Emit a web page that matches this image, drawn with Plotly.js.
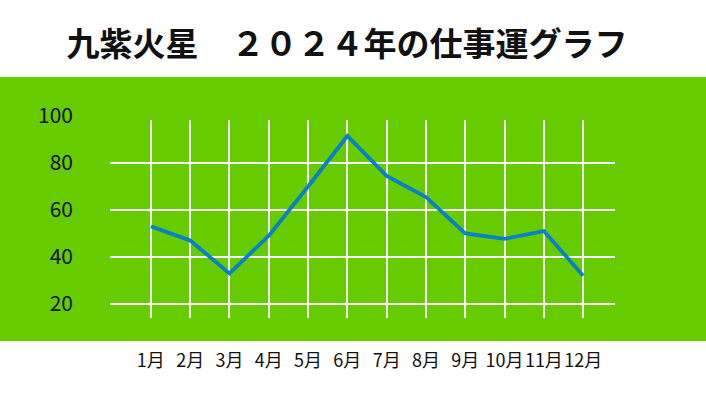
<!DOCTYPE html>
<html>
<head>
<meta charset="utf-8">
<script src="https://cdn.plot.ly/plotly-3.0.1.min.js"></script>
<style>
  html, body { margin: 0; padding: 0; background: #fff; }
  #graph { width: 706px; height: 419px; }
</style>
</head>
<body>
<div id="graph"></div>
<script>
// months on the x axis
var months = ['1月', '2月', '3月', '4月', '5月', '6月', '7月', '8月', '9月', '10月', '11月', '12月'];

// work luck score for each month
var luck = [53, 47, 33, 49, 70, 91.5, 74.5, 65.5, 50, 47.7, 51, 32];

// y tick labels (100 sits above the grid) and the gridlines
var yTickVals = [20, 40, 60, 80, 100];
var yGridVals = [20, 40, 60, 80];

var titleText = '九紫火星　２０２４年の仕事運グラフ';

var font = 'Noto Sans CJK JP, Noto Sans, sans-serif';

// range of the data axis, and how much of the plot height it takes
var yRange = [14, 98.3];
var dataTop = 198 / 210;
// the label axis uses the same scale but runs over the full height
var labelRange = [yRange[0], yRange[0] + (yRange[1] - yRange[0]) / dataTop];

var trace = {
    x: months,
    y: luck,
    type: 'scatter',
    mode: 'lines',
    line: { color: '#0a80c8', width: 3.8 },
    hoverinfo: 'skip'
};

// empty trace so the label axis gets drawn
var labelTrace = {
    x: [],
    y: [],
    xaxis: 'x2',
    yaxis: 'y2',
    type: 'scatter',
    mode: 'lines',
    hoverinfo: 'skip'
};

var layout = {
    width: 706,
    height: 419,
    margin: { l: 110, r: 91, t: 108, b: 101 },
    paper_bgcolor: '#ffffff',
    plot_bgcolor: 'rgba(0,0,0,0)',
    showlegend: false,
    title: {
        text: titleText,
        x: 0.4915, xref: 'container', xanchor: 'center',
        y: 0.893, yref: 'container', yanchor: 'middle',
        font: { family: font, size: 33, color: '#111', weight: 'bold' }
    },
    xaxis: {
        type: 'category',
        range: [-1.04, 11.81],
        showgrid: true,
        gridcolor: '#ffffff',
        gridwidth: 2,
        zeroline: false,
        showline: false,
        ticks: '',
        tickangle: 0,
        ticklabelstandoff: 30,
        tickfont: { family: font, size: 18, color: '#111' },
        fixedrange: true
    },
    yaxis: {
        domain: [0, dataTop],
        range: yRange,
        tickmode: 'array',
        tickvals: yGridVals,
        showticklabels: false,
        showgrid: true,
        gridcolor: '#ffffff',
        gridwidth: 2,
        zeroline: false,
        showline: false,
        ticks: '',
        fixedrange: true
    },
    // hidden x axis just to carry the label axis
    xaxis2: {
        anchor: 'y2',
        range: [0, 1],
        visible: false,
        showgrid: false,
        zeroline: false,
        fixedrange: true
    },
    yaxis2: {
        anchor: 'x2',
        domain: [0, 1],
        range: labelRange,
        tickmode: 'array',
        tickvals: yTickVals,
        showgrid: false,
        zeroline: false,
        showline: false,
        ticks: '',
        ticklabelstandoff: 36,
        tickfont: { family: font, size: 21, color: '#111' },
        fixedrange: true
    },
    // green band behind the plot
    shapes: [{
        type: 'rect', layer: 'below',
        xref: 'paper', yref: 'paper',
        x0: -0.5, x1: 1.5, y0: -0.11, y1: 1.148,
        fillcolor: '#66cc00', line: { width: 0 }
    }]
};

Plotly.newPlot('graph', [trace, labelTrace], layout, { displayModeBar: false, staticPlot: true });
</script>
</body>
</html>
